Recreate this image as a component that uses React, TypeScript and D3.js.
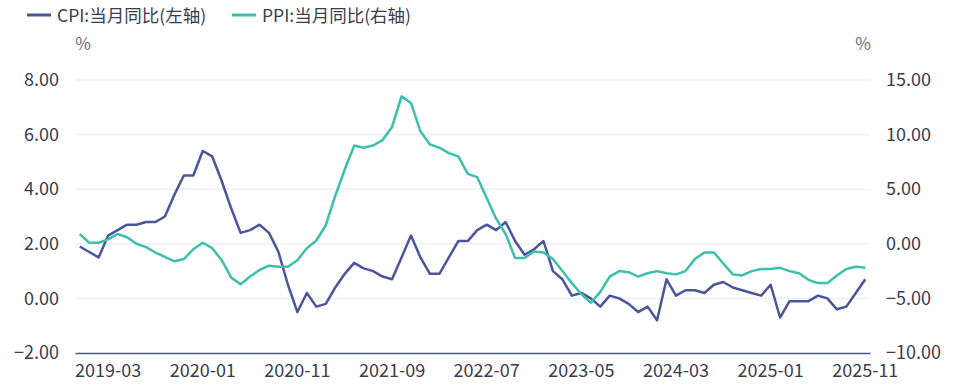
import * as d3 from 'd3'
import { useEffect } from 'react'

// monthly YoY, 2018-12 .. 2025-11
const cpi = [
  1.9, 1.7, 1.5, 2.3, 2.5, 2.7, 2.7, 2.8, 2.8, 3.0, 3.8, 4.5, 4.5,
  5.4, 5.2, 4.3, 3.3, 2.4, 2.5, 2.7, 2.4, 1.7, 0.5, -0.5, 0.2,
  -0.3, -0.2, 0.4, 0.9, 1.3, 1.1, 1.0, 0.8, 0.7, 1.5, 2.3, 1.5,
  0.9, 0.9, 1.5, 2.1, 2.1, 2.5, 2.7, 2.5, 2.8, 2.1, 1.6, 1.8,
  2.1, 1.0, 0.7, 0.1, 0.2, 0.0, -0.3, 0.1, 0.0, -0.2, -0.5, -0.3,
  -0.8, 0.7, 0.1, 0.3, 0.3, 0.2, 0.5, 0.6, 0.4, 0.3, 0.2, 0.1,
  0.5, -0.7, -0.1, -0.1, -0.1, 0.1, 0.0, -0.4, -0.3, 0.2, 0.7,
]
const ppi = [
  0.9, 0.1, 0.1, 0.4, 0.9, 0.6, 0.0, -0.3, -0.8, -1.2, -1.6, -1.4, -0.5,
  0.1, -0.4, -1.5, -3.1, -3.7, -3.0, -2.4, -2.0, -2.1, -2.1, -1.5, -0.4,
  0.3, 1.7, 4.4, 6.8, 9.0, 8.8, 9.0, 9.5, 10.7, 13.5, 12.9, 10.3,
  9.1, 8.8, 8.3, 8.0, 6.4, 6.1, 4.2, 2.3, 0.9, -1.3, -1.3, -0.7,
  -0.8, -1.4, -2.5, -3.6, -4.6, -5.4, -4.4, -3.0, -2.5, -2.6, -3.0, -2.7,
  -2.5, -2.7, -2.8, -2.5, -1.4, -0.8, -0.8, -1.8, -2.8, -2.9, -2.5, -2.3,
  -2.3, -2.2, -2.5, -2.7, -3.3, -3.6, -3.6, -2.9, -2.3, -2.1, -2.2,
]
const months = d3.timeMonths(new Date(2018, 11, 1), new Date(2025, 11, 1)).map(d3.timeFormat('%Y-%m'))
const leftTicks = [-2, 0, 2, 4, 6, 8]
const rightTicks = [-10, -5, 0, 5, 10, 15]
const seriesNames = ['CPI:当月同比(左轴)', 'PPI:当月同比(右轴)']
const colors = ['#4b5597', '#3dbfae']

const W = 956
const H = 385
const left = 75
const right = 870
const top = 80
const bottom = 353
const font = '"Noto Sans CJK SC", "Noto Sans", sans-serif'
const textColor = '#3a3d4d'

const App = () => {
  useEffect(() => {
    document.body.style.margin = '0'
    const svg = d3.select('#chart')
    svg.selectAll('*').remove()

    const x = d3.scaleBand().domain(months).range([left, right])
    const cx = (i) => x(months[i]) + x.bandwidth() / 2
    const yL = d3.scaleLinear().domain([-2, 8]).range([bottom, top])
    const yR = d3.scaleLinear().domain([-10, 15]).range([bottom, top])

    // grid
    svg
      .append('g')
      .selectAll('line')
      .data(leftTicks.slice(1))
      .join('line')
      .attr('x1', left)
      .attr('x2', right)
      .attr('y1', (d) => yL(d))
      .attr('y2', (d) => yL(d))
      .style('stroke', '#eef0f7')
      .style('stroke-width', 1.5)

    // left axis
    const yAxisL = d3.axisLeft(yL).tickValues(leftTicks).tickSize(0).tickPadding(16).tickFormat(d3.format('.2f'))
    const gL = svg.append('g').attr('transform', `translate(${left}, 0)`)
    yAxisL(gL)
    gL.select('.domain').remove()
    gL.selectAll('text').style('font-size', 18).style('font-family', font).style('fill', textColor)

    // right axis
    const yAxisR = d3.axisRight(yR).tickValues(rightTicks).tickSize(0).tickPadding(16).tickFormat(d3.format('.2f'))
    const gR = svg.append('g').attr('transform', `translate(${right}, 0)`)
    yAxisR(gR)
    gR.select('.domain').remove()
    gR.selectAll('text').style('font-size', 18).style('font-family', font).style('fill', textColor)

    // x axis
    const xAxis = d3
      .axisBottom(x)
      .tickValues(months.filter((d, i) => i % 10 === 3))
      .tickSize(0)
      .tickPadding(11)
    const gX = svg.append('g').attr('transform', `translate(0, ${bottom})`)
    xAxis(gX)
    gX.select('.domain').style('stroke', '#4b5597').style('stroke-width', 1.5)
    gX.selectAll('text').style('font-size', 18).style('font-family', font).style('fill', textColor)

    // units
    svg.append('text').attr('x', 83).attr('y', 50).attr('text-anchor', 'middle').text('%')
      .style('font-size', 17).style('font-family', font).style('fill', '#6b6e7c')
    svg.append('text').attr('x', 863).attr('y', 50).attr('text-anchor', 'middle').text('%')
      .style('font-size', 17).style('font-family', font).style('fill', '#6b6e7c')

    // lines
    const series = [
      { values: cpi, y: yL },
      { values: ppi, y: yR },
    ]
    series.forEach((s, k) => {
      const line = d3
        .line()
        .x((d, i) => cx(i))
        .y((d) => s.y(d))
      svg
        .append('path')
        .datum(s.values)
        .attr('d', line)
        .style('fill', 'none')
        .style('stroke', colors[k])
        .style('stroke-width', 2.5)
        .style('stroke-linejoin', 'round')
    })

    // legend
    const legendX = [27, 232]
    const lg = svg.append('g')
    seriesNames.forEach((name, k) => {
      lg.append('line')
        .attr('x1', legendX[k])
        .attr('x2', legendX[k] + 24)
        .attr('y1', 15)
        .attr('y2', 15)
        .style('stroke', colors[k])
        .style('stroke-width', 3)
      lg.append('text')
        .attr('x', legendX[k] + 30)
        .attr('y', 22)
        .text(name)
        .style('font-size', 17.5)
        .style('font-family', font)
        .style('fill', textColor)
    })
  }, [])

  return <svg id='chart' width={W} height={H} style={{ display: 'block' }}></svg>
}
export default App
